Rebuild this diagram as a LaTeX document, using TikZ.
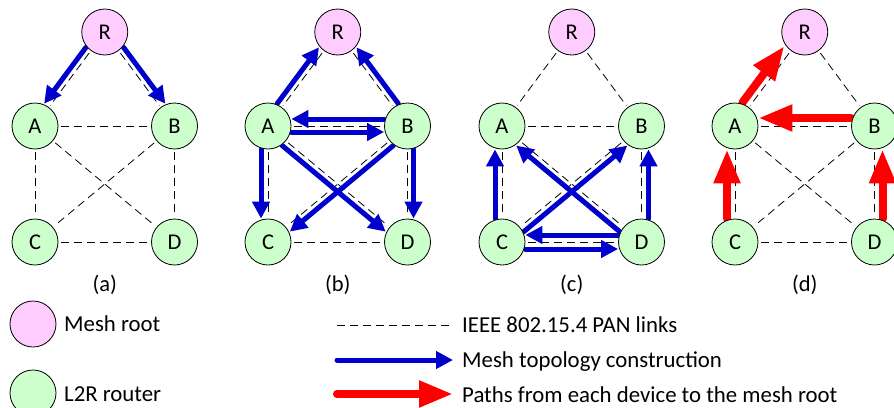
\documentclass[tikz,border=0pt]{standalone}
\usepackage{fontspec}
\setmainfont{Carlito}
\usetikzlibrary{arrows.meta,backgrounds}
\definecolor{rootpink}{RGB}{255,204,255}
\definecolor{routergreen}{RGB}{204,255,204}
\definecolor{meshblue}{RGB}{0,0,204}
\definecolor{pathred}{RGB}{255,0,0}
\tikzset{
  basenode/.style={circle, draw=black, line width=0.8pt, minimum size=46pt, inner sep=0pt},
  rootnode/.style={basenode, fill=rootpink},
  routernode/.style={basenode, fill=routergreen},
  pan/.style={draw=black, line width=0.8pt, dash pattern=on 8pt off 5pt, shorten <=3pt, shorten >=2pt},
  bluearrow/.style={draw=meshblue, line width=5pt, line cap=round, -{Triangle[length=17pt,width=17pt]}},
  redarrow/.style={draw=pathred, line width=8pt, line cap=round, -{Triangle[length=34pt,width=25pt]}},
  off/.style={transform canvas={shift={#1}}},
  legendtext/.style={anchor=base west, inner sep=0pt, font=\fontsize{22.8}{27}\selectfont},
  panellabel/.style={inner sep=0pt}
}
\newcommand{\meshpanel}[3]{%
  \node[rootnode]   (#1R) at (#2+69.75,32)  {R};
  \node[routernode] (#1A) at (#2,126)       {A};
  \node[routernode] (#1B) at (#2+139.5,126) {B};
  \node[routernode] (#1C) at (#2,242)       {C};
  \node[routernode] (#1D) at (#2+139.5,242) {D};
  \node[panellabel] (#1lab) at (#2+69.75,285) {#3};
  \begin{pgfonlayer}{background}
    \draw[pan] (#1R) -- (#1A);
    \draw[pan] (#1R) -- (#1B);
    \draw[pan] (#1A) -- (#1B);
    \draw[pan] (#1A) -- (#1C);
    \draw[pan] (#1B) -- (#1D);
    \draw[pan] (#1C) -- (#1D);
    \draw[pan] (#1A) -- (#1D);
    \draw[pan] (#1B) -- (#1C);
  \end{pgfonlayer}
}
\begin{document}
\begin{tikzpicture}[x=1pt, y=-1pt, font=\fontsize{22.5}{26}\selectfont]
  \useasboundingbox (0,0) rectangle (894,407);
  \meshpanel{a}{35}{(a)}
  \meshpanel{b}{268}{(b)}
  \meshpanel{c}{502}{(c)}
  \meshpanel{d}{735}{(d)}

  % legend
  \node[rootnode]   (legR) at (33,324) {};
  \node[routernode] (legG) at (33,393) {};
  \node[legendtext] (legRt) at (64,331) {Mesh root};
  \node[legendtext] (legGt) at (64,401) {L2R router};
  \coordinate (l1s) at (337,325); \coordinate (l1e) at (450,325);
  \coordinate (l2s) at (337,360); \coordinate (l2e) at (453,360);
  \coordinate (l3s) at (337,394); \coordinate (l3e) at (453,394);
  \draw[draw=black, line width=0.8pt, dash pattern=on 8pt off 5pt] (l1s) -- (l1e);
  \draw[bluearrow] (l2s) -- (l2e);
  \draw[redarrow] (l3s) -- (l3e);
  \node[legendtext] (l1t) at (462,332) {IEEE 802.15.4 PAN links};
  \node[legendtext] (l2t) at (462,367) {Mesh topology construction};
  \node[legendtext] (l3t) at (462,402) {Paths from each device to the mesh root};

  \begin{pgfonlayer}{background}
    % (a)
    \draw[bluearrow, off={(-4.8,-3.5)}] (aR) -- (aA);
    \draw[bluearrow, off={(4.8,-3.5)}]  (aR) -- (aB);
    % (b)
    \draw[bluearrow, off={(-4.8,-3.5)}] (bA) -- (bR);
    \draw[bluearrow, off={(4.8,-3.5)}]  (bB) -- (bR);
    \draw[bluearrow, off={(0,-7)}]      (bB) -- (bA);
    \draw[bluearrow, off={(0,6)}]       (bA) -- (bB);
    \draw[bluearrow, off={(-7,0)}]      (bA) -- (bC);
    \draw[bluearrow, off={(6,0)}]       (bB) -- (bD);
    \draw[bluearrow, off={(-3.8,4.6)}]  (bA) -- (bD);
    \draw[bluearrow, off={(3.8,4.6)}]   (bB) -- (bC);
    % (c)
    \draw[bluearrow, off={(-7,0)}]      (cC) -- (cA);
    \draw[bluearrow, off={(7,0)}]       (cD) -- (cB);
    \draw[bluearrow, off={(0,-7)}]      (cD) -- (cC);
    \draw[bluearrow, off={(0,7)}]       (cC) -- (cD);
    \draw[bluearrow, off={(-3.8,4.6)}]  (cD) -- (cA);
    \draw[bluearrow, off={(3.8,4.6)}]   (cC) -- (cB);
    % (d)
    \draw[redarrow, off={(-6.5,-4.7)}]  (dA) -- (dR);
    \draw[redarrow, off={(0,-8)}]       (dB) -- (dA);
    \draw[redarrow, off={(-8,0)}]       (dC) -- (dA);
    \draw[redarrow, off={(8,0)}]        (dD) -- (dB);
  \end{pgfonlayer}
\end{tikzpicture}
\end{document}
